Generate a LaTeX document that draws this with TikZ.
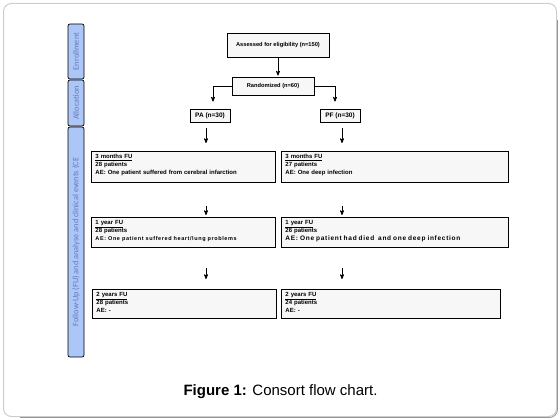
\documentclass[tikz,border=0pt]{standalone}
\usepackage{fontspec}
\setmainfont{Liberation Sans}
\newfontfamily\barfont{Carlito}
\usepackage{tikz}
\usetikzlibrary{arrows}

\definecolor{boxgray}{RGB}{247,247,247}
\definecolor{barblue}{RGB}{172,199,247}
\definecolor{bartext}{RGB}{100,122,180}
\definecolor{framegray}{RGB}{205,205,205}
\definecolor{shadegray}{RGB}{150,150,150}

\newcommand\fuend[1]{\rule[-#1]{0pt}{#1}}
\newcommand\aeline[3]{{\fontsize{#1}{8}\selectfont\addfontfeatures{LetterSpace=#2}#3}}

\begin{document}
\begin{tikzpicture}[x=1pt,y=-1pt,>=stealth',line width=0.7pt]
  \tikzstyle{phase}=[draw=black,fill=barblue,rounded corners=2pt,rotate=90,
                     minimum height=16pt,inner sep=0pt,text=bartext,
                     font=\barfont\fontsize{8.3}{9}\selectfont]
  \tikzstyle{headbox}=[draw=black,fill=boxgray,line width=0.9pt,inner sep=0pt,
                       font=\bfseries\fontsize{5.7}{6}\selectfont]
  \tikzstyle{fubox}=[draw=black,fill=boxgray,line width=0.9pt,anchor=north west,
                     align=left,inner xsep=4pt,inner ysep=3pt,
                     font=\bfseries\fontsize{6}{8}\selectfont]

  \useasboundingbox (0,0) rectangle (560,420);
  \draw[framegray,line width=1pt,rounded corners=8pt] (3.5,3.5) rectangle (556.5,416.5);
  \draw[shadegray,line width=0.8pt,rounded corners=8pt]
        (557.5,20) -- (557.5,417.5) -- (20,417.5);

  % study phases
  \node[phase,minimum width=55pt]  (enrol)  at (76,51.5) {Enrollment};
  \node[phase,minimum width=46pt]  (alloc)  at (76,103)  {Allocation};
  \node[phase,minimum width=230pt] (follow) at (76,242)
        {Follow-Up (FU) and analyse and clinical events (CE};

  \node[headbox,minimum width=102pt,minimum height=24pt] (assess) at (278,45)
        {Assessed for eligibility (n=150)};
  \node[headbox,minimum width=82pt,minimum height=18pt]  (rand)   at (273,86)
        {Randomized (n=60)};
  \node[headbox,minimum width=40pt,minimum height=13pt,
        font=\bfseries\fontsize{6.5}{7}\selectfont]       (pa)     at (210,115.5)
        {PA (n=30)};
  \node[headbox,minimum width=40pt,minimum height=13pt,
        font=\bfseries\fontsize{6.5}{7}\selectfont]       (pf)     at (340,115.5)
        {PF (n=30)};

  % follow-up boxes
  \node[fubox,text width=176pt] (m3L) at (91,151)
        {\underline{3 months FU}\\28 patients\\AE: One patient suffered from cerebral infarction\fuend{4.6pt}};
  \node[fubox,text width=219pt] (m3R) at (281,151)
        {\underline{3 months FU}\\27 patients\\AE: One deep infection\fuend{4.6pt}};
  \node[fubox,text width=176pt] (y1L) at (91,217)
        {\underline{1 year FU}\\28 patients\\\aeline{5.5}{11}{AE: One patient suffered heart/lung problems}\fuend{3.6pt}};
  \node[fubox,text width=219pt] (y1R) at (281,217)
        {\underline{1 year FU}\\26 patients\\\aeline{6.5}{11}{AE: One patient had died\ \ and one deep infection}\fuend{3.6pt}};
  \node[fubox,text width=176pt] (y2L) at (92,289)
        {\underline{2 years FU}\\28 patients\\AE: -\fuend{2.6pt}};
  \node[fubox,text width=211pt] (y2R) at (281,289)
        {\underline{2 years FU}\\24 patients\\AE: -\fuend{2.6pt}};

  \coordinate (colL) at (206,0);
  \coordinate (colR) at (342,0);

  \draw[->,shorten >=1pt] (assess.south) -- (assess.south |- rand.north);
  \draw[->,shorten >=7pt] (rand.west) -| ([xshift=3pt]pa.north);
  \draw[->,shorten >=7pt] (rand.east) -| ([xshift=-5pt]pf.north);

  \draw[->,shorten <=6pt,shorten >=8pt]  (pa.south -| colL)  -- (m3L.north -| colL);
  \draw[->,shorten <=6pt,shorten >=8pt]  (pf.south -| colR)  -- (m3R.north -| colR);
  \draw[->,shorten <=23pt,shorten >=2pt] (m3L.south -| colL) -- (y1L.north -| colL);
  \draw[->,shorten <=23pt,shorten >=2pt] (m3R.south -| colR) -- (y1R.north -| colR);
  \draw[->,shorten <=20pt,shorten >=10pt] (y1L.south -| colL) -- (y2L.north -| colL);
  \draw[->,shorten <=20pt,shorten >=10pt] (y1R.south -| colR) -- (y2R.north -| colR);

  \node[font=\fontsize{15}{18}\selectfont] (caption) at (280.5,392)
        {\textbf{Figure 1:} Consort flow chart.};
\end{tikzpicture}
\end{document}
